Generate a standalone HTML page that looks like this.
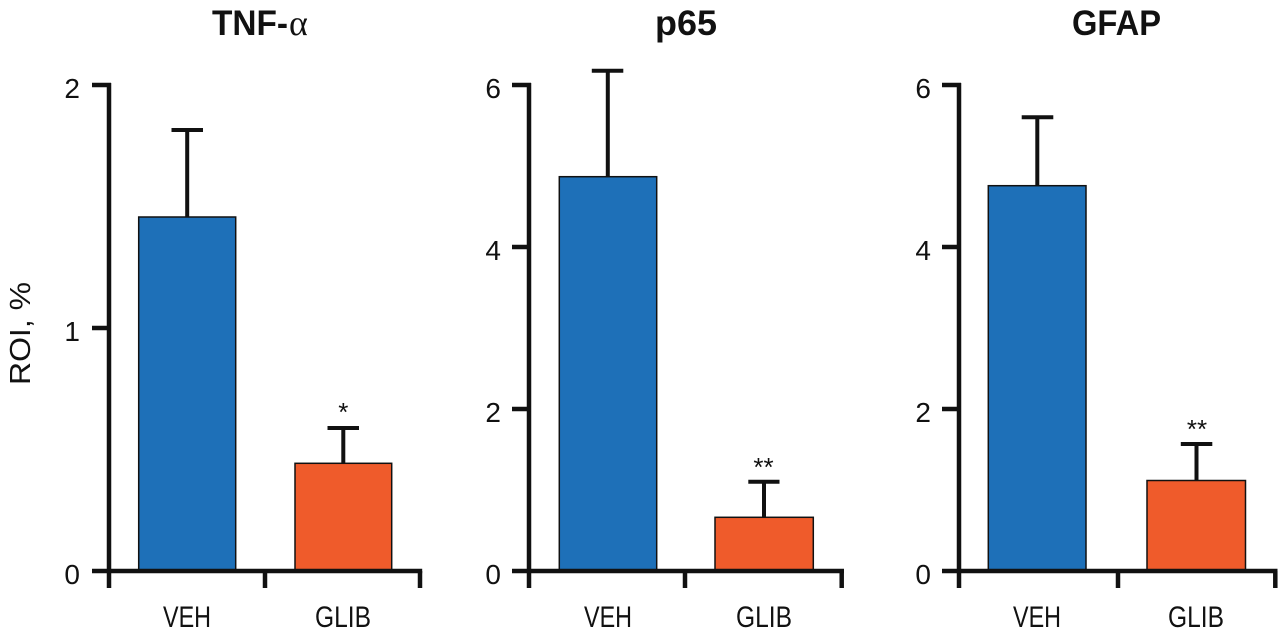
<!DOCTYPE html>
<html>
<head>
<meta charset="utf-8">
<style>
  html,body{margin:0;padding:0;background:#fff;}
  svg{display:block;}
  text{font-family:"Liberation Sans", Arial, sans-serif; fill:#111;}
</style>
</head>
<body>
<svg width="1280" height="634" viewBox="0 0 1280 634" xmlns="http://www.w3.org/2000/svg">
  <rect width="1280" height="634" fill="#fff"/>

  <!-- Y label -->
  <text x="30" y="333.5" font-size="29" text-anchor="middle" transform="rotate(-90 30 333.5)" textLength="103" lengthAdjust="spacingAndGlyphs">ROI, %</text>

  <!-- ============ Panel 1: TNF-alpha ============ -->
  <text x="212" y="35" font-size="35" font-weight="bold" textLength="76" lengthAdjust="spacingAndGlyphs">TNF-</text>
  <text x="289" y="35" font-size="36" style="font-family:'Liberation Serif',serif">α</text>

  <!-- bars -->
  <rect x="138.7" y="217" width="97" height="354" fill="#1e70b8" stroke="#111" stroke-width="1.5"/>
  <rect x="295" y="463.3" width="96.7" height="107.7" fill="#ef5b2b" stroke="#111" stroke-width="1.5"/>
  <!-- error bars -->
  <g stroke="#111" stroke-width="4" fill="none">
    <line x1="187.2" y1="130" x2="187.2" y2="217"/>
    <line x1="171.5" y1="130" x2="203" y2="130"/>
    <line x1="343.3" y1="428" x2="343.3" y2="463.3"/>
    <line x1="327.5" y1="428" x2="359" y2="428"/>
  </g>
  <text x="343.3" y="421" font-size="26" text-anchor="middle">*</text>
  <!-- axes -->
  <g stroke="#111" stroke-width="4.5" fill="none" stroke-linecap="butt">
    <line x1="109" y1="83" x2="109" y2="588"/>
    <line x1="92" y1="571" x2="422.2" y2="571"/>
    <line x1="92" y1="85" x2="111" y2="85"/>
    <line x1="92" y1="328" x2="111" y2="328"/>
    <line x1="265" y1="571" x2="265" y2="588"/>
    <line x1="420" y1="571" x2="420" y2="588"/>
  </g>
  <g font-size="28" text-anchor="end">
    <text x="80" y="98">2</text>
    <text x="80" y="341">1</text>
    <text x="80" y="584">0</text>
  </g>
  <text x="187" y="627" font-size="30" text-anchor="middle" textLength="48" lengthAdjust="spacingAndGlyphs">VEH</text>
  <text x="343" y="627" font-size="30" text-anchor="middle" textLength="56" lengthAdjust="spacingAndGlyphs">GLIB</text>

  <!-- ============ Panel 2: p65 ============ -->
  <text x="655" y="35" font-size="35" font-weight="bold" textLength="62" lengthAdjust="spacingAndGlyphs">p65</text>

  <rect x="559.3" y="176.7" width="97.4" height="394.3" fill="#1e70b8" stroke="#111" stroke-width="1.5"/>
  <rect x="715" y="517.3" width="98.3" height="53.7" fill="#ef5b2b" stroke="#111" stroke-width="1.5"/>
  <g stroke="#111" stroke-width="4" fill="none">
    <line x1="607.8" y1="70.7" x2="607.8" y2="176.7"/>
    <line x1="591.8" y1="70.7" x2="623.3" y2="70.7"/>
    <line x1="764" y1="481.7" x2="764" y2="517.3"/>
    <line x1="748.3" y1="481.7" x2="779.5" y2="481.7"/>
  </g>
  <text x="763.5" y="476" font-size="26" text-anchor="middle">**</text>
  <g stroke="#111" stroke-width="4.5" fill="none">
    <line x1="529" y1="83" x2="529" y2="588"/>
    <line x1="512" y1="571" x2="844" y2="571"/>
    <line x1="512" y1="85" x2="531" y2="85"/>
    <line x1="512" y1="247" x2="531" y2="247"/>
    <line x1="512" y1="409" x2="531" y2="409"/>
    <line x1="685" y1="571" x2="685" y2="588"/>
    <line x1="841.7" y1="571" x2="841.7" y2="588"/>
  </g>
  <g font-size="28" text-anchor="end">
    <text x="501" y="98">6</text>
    <text x="501" y="260">4</text>
    <text x="501" y="422">2</text>
    <text x="501" y="584">0</text>
  </g>
  <text x="608" y="627" font-size="30" text-anchor="middle" textLength="48" lengthAdjust="spacingAndGlyphs">VEH</text>
  <text x="764" y="627" font-size="30" text-anchor="middle" textLength="56" lengthAdjust="spacingAndGlyphs">GLIB</text>

  <!-- ============ Panel 3: GFAP ============ -->
  <text x="1072" y="35" font-size="35" font-weight="bold" textLength="89" lengthAdjust="spacingAndGlyphs">GFAP</text>

  <rect x="988.3" y="185.7" width="97.7" height="385.3" fill="#1e70b8" stroke="#111" stroke-width="1.5"/>
  <rect x="1147" y="480.5" width="98.5" height="90.5" fill="#ef5b2b" stroke="#111" stroke-width="1.5"/>
  <g stroke="#111" stroke-width="4" fill="none">
    <line x1="1037.3" y1="117.3" x2="1037.3" y2="185.7"/>
    <line x1="1021.7" y1="117.3" x2="1053.3" y2="117.3"/>
    <line x1="1196.5" y1="444" x2="1196.5" y2="480.5"/>
    <line x1="1180.8" y1="444" x2="1212.3" y2="444"/>
  </g>
  <text x="1197" y="438" font-size="26" text-anchor="middle">**</text>
  <g stroke="#111" stroke-width="4.5" fill="none">
    <line x1="959" y1="83" x2="959" y2="588"/>
    <line x1="942" y1="571" x2="1277.5" y2="571"/>
    <line x1="942" y1="85" x2="961" y2="85"/>
    <line x1="942" y1="247" x2="961" y2="247"/>
    <line x1="942" y1="409" x2="961" y2="409"/>
    <line x1="1118" y1="571" x2="1118" y2="588"/>
    <line x1="1275.3" y1="571" x2="1275.3" y2="588"/>
  </g>
  <g font-size="28" text-anchor="end">
    <text x="931" y="98">6</text>
    <text x="931" y="260">4</text>
    <text x="931" y="422">2</text>
    <text x="931" y="584">0</text>
  </g>
  <text x="1037" y="627" font-size="30" text-anchor="middle" textLength="48" lengthAdjust="spacingAndGlyphs">VEH</text>
  <text x="1196" y="627" font-size="30" text-anchor="middle" textLength="56" lengthAdjust="spacingAndGlyphs">GLIB</text>
</svg>
</body>
</html>
